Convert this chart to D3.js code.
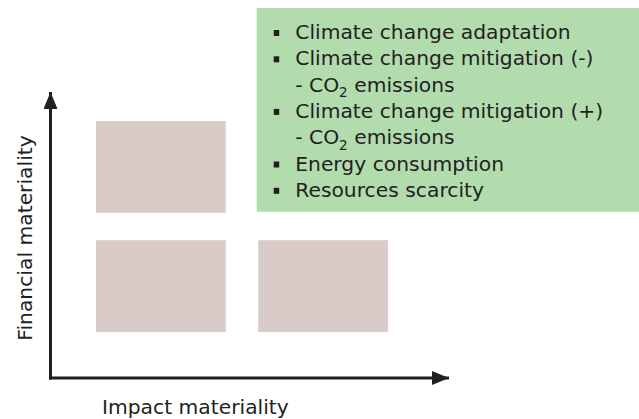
<!DOCTYPE html>
<html lang="en">
<head>
<meta charset="utf-8">
<title>Double materiality</title>
<script src="https://d3js.org/d3.v7.min.js"></script>
<style>
  body { margin: 0; background: #fff; }
  text { font-family: "DejaVu Sans", "Open Sans", sans-serif; fill: #231f20; }
</style>
</head>
<body>
<script>
// data
const impactLevels = ["Low", "High"];
const financialLevels = ["High", "Low"];
// cells of the matrix that are shaded (top-right one holds the topic list)
const cells = [
  {impact: "Low", financial: "High"},
  {impact: "Low", financial: "Low"},
  {impact: "High", financial: "Low"}
];
const topics = [
  "Climate change adaptation",
  "Climate change mitigation (-)",
  "Climate change mitigation (+)",
  "Energy consumption",
  "Resources scarcity"
];
const topicNotes = [null, "- CO_2 emissions", "- CO_2 emissions", null, null];
const xTitle = "Impact materiality";
const yTitle = "Financial materiality";

const w = 639, h = 419;
const fs = 20.3;
const svg = d3.select("body").append("svg")
  .attr("width", w)
  .attr("height", h);

const defs = svg.append("defs");
defs.append("marker")
  .attr("id", "arrow")
  .attr("viewBox", "0 0 17 14")
  .attr("refX", 17).attr("refY", 7)
  .attr("markerWidth", 17).attr("markerHeight", 14)
  .attr("markerUnits", "userSpaceOnUse")
  .attr("orient", "auto")
  .append("path")
  .attr("d", "M0,0 L17,7 L0,14 Z")
  .attr("fill", "#231f20");

const origin = {x: 50.5, y: 378};

const xScale = d3.scaleBand()
  .domain(impactLevels)
  .range([96, 388])
  .paddingInner(0.2);

const yScale = d3.scaleBand()
  .domain(financialLevels)
  .range([121, 332])
  .paddingInner(0.23);

// shaded cells
svg.selectAll("rect.cell")
  .data(cells)
  .enter().append("rect")
  .attr("class", "cell")
  .attr("x", d => xScale(d.impact))
  .attr("y", d => yScale(d.financial))
  .attr("width", xScale.bandwidth())
  .attr("height", yScale.bandwidth())
  .attr("fill", "#d9ccc8");

// axes with arrows
svg.append("line")
  .attr("x1", origin.x).attr("y1", origin.y + 1.5)
  .attr("x2", origin.x).attr("y2", 92)
  .attr("stroke", "#231f20").attr("stroke-width", 3)
  .attr("marker-end", "url(#arrow)");

svg.append("line")
  .attr("x1", origin.x - 1.5).attr("y1", origin.y)
  .attr("x2", 449).attr("y2", origin.y)
  .attr("stroke", "#231f20").attr("stroke-width", 3)
  .attr("marker-end", "url(#arrow)");

svg.append("text")
  .attr("x", 102).attr("y", 414)
  .attr("font-size", fs)
  .text(xTitle);

svg.append("text")
  .attr("transform", "translate(32,238) rotate(-90)")
  .attr("text-anchor", "middle")
  .attr("font-size", fs)
  .text(yTitle);

// topic box in the high/high cell
const lines = [];
topics.forEach((t, i) => {
  lines.push({bullet: true, text: t});
  if (topicNotes[i]) lines.push({bullet: false, text: topicNotes[i]});
});

const boxX = xScale("High") - 1.5;
const boxBottom = yScale("High") + yScale.bandwidth() - 1;
const lineH = 26.3;
const boxTop = 8;

const box = svg.append("g");
box.append("rect")
  .attr("x", boxX).attr("y", boxTop)
  .attr("width", w - boxX).attr("height", boxBottom - boxTop)
  .attr("fill", "#b2dbae");

const row = box.selectAll("g.row")
  .data(lines)
  .enter().append("g")
  .attr("class", "row")
  .attr("transform", (d, i) => `translate(${boxX + 38.5},${boxTop + 31 + i * lineH})`);

row.filter(d => d.bullet).append("rect")
  .attr("x", -21.5).attr("y", -9)
  .attr("width", 5.5).attr("height", 6)
  .attr("fill", "#231f20");

row.append("text")
  .attr("font-size", fs)
  .each(function(d) {
    const t = d3.select(this);
    const parts = d.text.split("_");
    t.append("tspan").text(parts[0]);
    if (parts.length > 1) {
      t.append("tspan")
        .attr("font-size", 13.5)
        .attr("dy", 5.5)
        .text(parts[1].charAt(0));
      t.append("tspan")
        .attr("dy", -5.5)
        .text(parts[1].slice(1));
    }
  });
</script>
</body>
</html>
